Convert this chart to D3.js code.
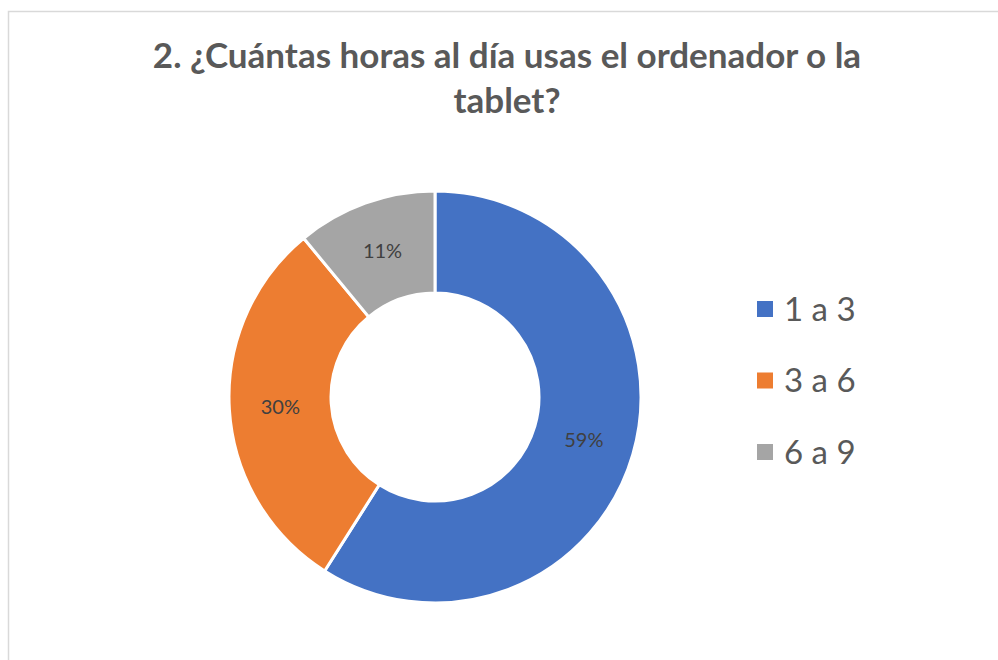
<!DOCTYPE html>
<html>
<head>
<meta charset="utf-8">
<script src="https://cdn.jsdelivr.net/npm/d3@7"></script>
<style>
  html, body { margin: 0; padding: 0; background: #fff; }
  svg { display: block; font-family: Lato, "Open Sans", sans-serif; }
</style>
</head>
<body>
<div id="chart"></div>
<script>
const titleLines = ["2. ¿Cuántas horas al día usas el ordenador o la", "tablet?"];
const categories = ["1 a 3", "3 a 6", "6 a 9"];
const values = [59, 30, 11];
const colors = ["#4472c4", "#ed7d31", "#a5a5a5"];

const width = 998;
const height = 660;
const center = { x: 435, y: 397 };
const outerR = 206;
const innerR = 104;

const svg = d3.select("#chart").append("svg")
  .attr("width", width)
  .attr("height", height);

// chart frame (right and bottom edges run off the picture)
svg.append("rect")
  .attr("x", 8.5).attr("y", 11.5)
  .attr("width", 1100).attr("height", 800)
  .attr("fill", "#fff")
  .attr("stroke", "#d9d9d9")
  .attr("stroke-width", 1.5);

const title = svg.append("text")
  .attr("text-anchor", "middle")
  .attr("fill", "#595959")
  .attr("font-weight", "bold")
  .attr("font-size", 35);

titleLines.forEach((line, i) => {
  title.append("tspan")
    .attr("x", 507)
    .attr("y", 68 + i * 45)
    .text(line);
});

const pie = d3.pie().sort(null).value((d) => d);
const arcs = pie(values);
const arc = d3.arc().innerRadius(innerR).outerRadius(outerR);

const donut = svg.append("g").attr("transform", `translate(${center.x},${center.y})`);

donut.selectAll("path")
  .data(arcs)
  .join("path")
  .attr("d", arc)
  .attr("fill", (d, i) => colors[i])
  .attr("stroke", "#fff")
  .attr("stroke-width", 3);

const total = d3.sum(values);
donut.selectAll("text")
  .data(arcs)
  .join("text")
  .attr("transform", (d) => `translate(${arc.centroid(d)})`)
  .attr("text-anchor", "middle")
  .attr("dy", "0.35em")
  .attr("fill", "#404040")
  .attr("font-size", 20)
  .text((d) => `${Math.round((d.data / total) * 100)}%`);

const y = d3.scalePoint().domain(categories).range([309, 452]);

const legend = svg.append("g");
const item = legend.selectAll("g")
  .data(categories)
  .join("g")
  .attr("transform", (d) => `translate(757,${y(d)})`);

item.append("rect")
  .attr("x", 0).attr("y", -8)
  .attr("width", 16).attr("height", 16)
  .attr("fill", (d, i) => colors[i]);

item.append("text")
  .attr("x", 27)
  .attr("y", 0)
  .attr("dy", "0.36em")
  .attr("fill", "#595959")
  .attr("font-size", 33)
  .text((d) => d);
</script>
</body>
</html>
